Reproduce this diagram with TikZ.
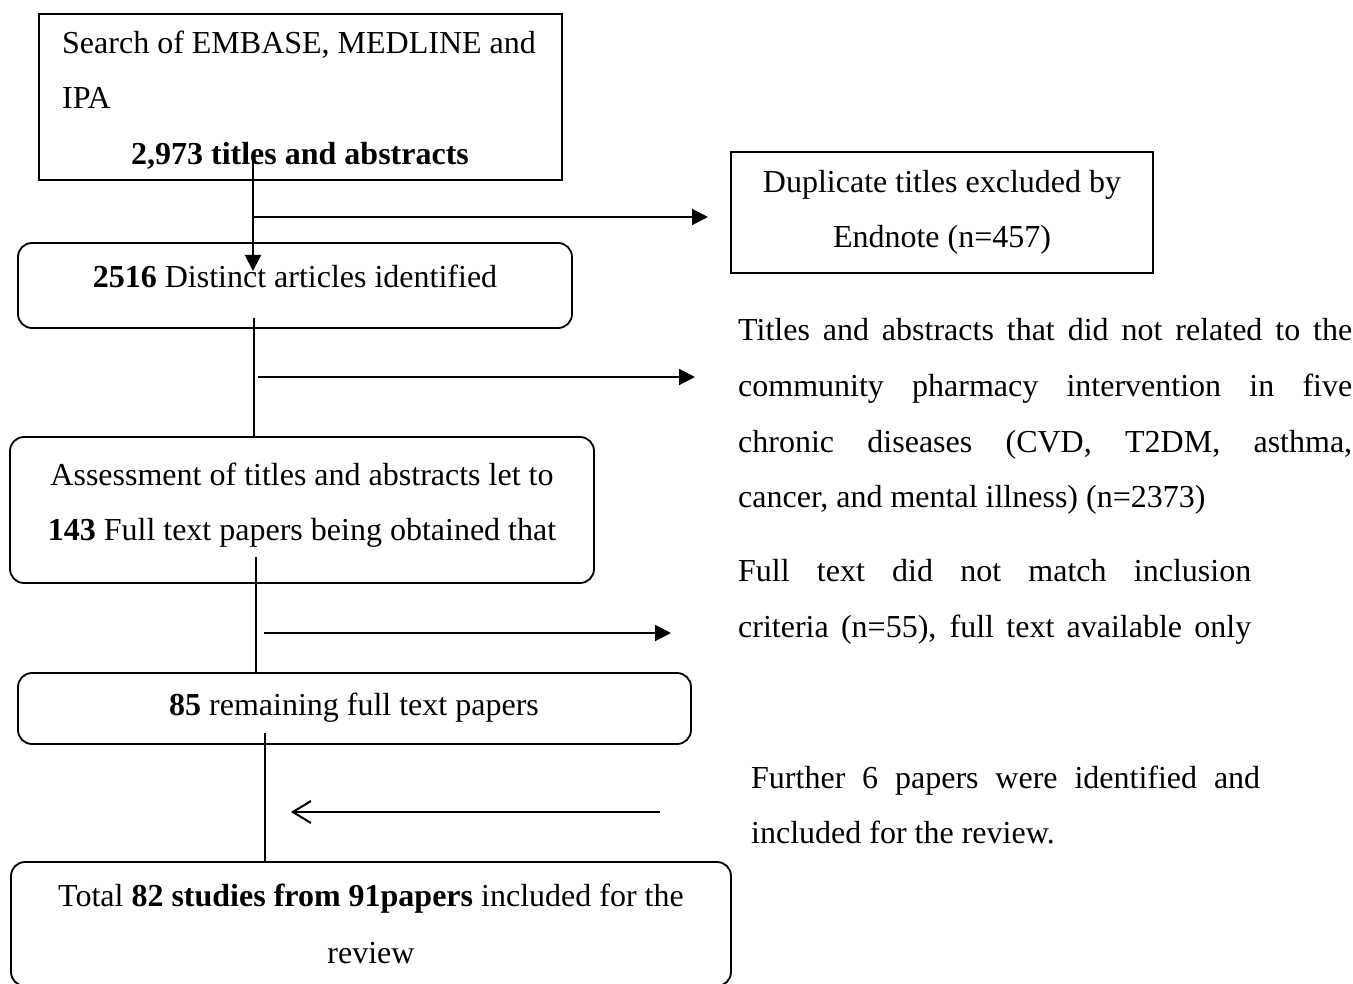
\documentclass[tikz,border=0pt]{standalone}
\usepackage{fontspec}
\setmainfont{Liberation Serif}
\usetikzlibrary{arrows.meta}
\newcommand{\fs}{\fontsize{32}{55.5}\selectfont}
\tikzset{
  box/.style={draw, line width=1.8pt, inner sep=0pt},
  rbox/.style={box, rounded corners=14pt},
  txt/.style={font=\fs, inner sep=0pt},
  conn/.style={line width=2pt},
  arr/.style={conn, -{Triangle[length=16pt,width=16pt]}},
  barb/.style={conn, -{Straight Barb[length=18pt,width=22pt,line width=2pt]}}
}
\begin{document}
\begin{tikzpicture}[x=1pt,y=-1pt]
\useasboundingbox (0,0) rectangle (1353,984);
\begin{scope}
\clip (0,0) rectangle (1353,984);
% boxes
\node[box, minimum width=523pt, minimum height=166pt] (b1) at (300.5,97) {};
\node[box, minimum width=422pt, minimum height=121pt] (b2) at (942,212.5) {};
\node[rbox, minimum width=554pt, minimum height=85pt] (b3) at (295,285.5) {};
\node[rbox, minimum width=584pt, minimum height=146pt] (b4) at (302,510) {};
\node[rbox, minimum width=673pt, minimum height=71pt] (b5) at (354.5,708.5) {};
\node[rbox, minimum width=720pt, minimum height=124pt] (b6) at (371,924) {};
\end{scope}
% box texts
\node[txt, anchor=base west] (t1a) at (62,54) {Search of EMBASE, MEDLINE and};
\node[txt, anchor=base west] (t1b) at (62,109) {IPA};
\node[txt, anchor=base] (t1c) at (300,165) {\textbf{2,973 titles and abstracts}};
\node[txt, anchor=base] (t2a) at (942,193) {Duplicate titles excluded by};
\node[txt, anchor=base] (t2b) at (942,248) {Endnote (n=457)};
\node[txt, anchor=base] (t3) at (295,288) {\textbf{2516} Distinct articles identified};
\node[txt, anchor=base] (t4a) at (302,485) {Assessment of titles and abstracts let to};
\node[txt, anchor=base] (t4b) at (302,540) {\textbf{143} Full text papers being obtained that};
\node[txt, anchor=base] (t5) at (354,715) {\textbf{85} remaining full text papers};
\node[txt, anchor=base] (t6a) at (371,906) {Total \textbf{82 studies from 91papers} included for the};
\node[txt, anchor=base] (t6b) at (371,963) {review};
% side texts
\node[txt, anchor=base west] (s1a) at (738,341) {\makebox[614pt][s]{Titles and abstracts that did not related to the}};
\node[txt, anchor=base west] (s1b) at (738,397) {\makebox[614pt][s]{community pharmacy intervention in five}};
\node[txt, anchor=base west] (s1c) at (738,452) {\makebox[614pt][s]{chronic diseases (CVD, T2DM, asthma,}};
\node[txt, anchor=base west] (s1d) at (738,507) {cancer, and mental illness) (n=2373)};
\node[txt, anchor=base west] (s2a) at (738,581) {\makebox[513pt][s]{Full text did not match inclusion}};
\node[txt, anchor=base west] (s2b) at (738,637) {\makebox[513pt][s]{criteria (n=55), full text available only}};
\node[txt, anchor=base west] (s3a) at (751,788) {\makebox[509pt][s]{Further 6 papers were identified and}};
\node[txt, anchor=base west] (s3b) at (751,843) {included for the review.};
% connector coordinates
\coordinate (v1s) at (253,160);
\coordinate (v1e) at (253,271);
\coordinate (h1s) at (253,217);
\coordinate (h1e) at (708,217);
\coordinate (v2s) at (254,318);
\coordinate (v2e) at (254,437);
\coordinate (h2s) at (258,377);
\coordinate (h2e) at (695,377);
\coordinate (v3s) at (256,557);
\coordinate (v3e) at (256,673);
\coordinate (h3s) at (264,633);
\coordinate (h3e) at (671,633);
\coordinate (v4s) at (265,733);
\coordinate (v4e) at (265,862);
\coordinate (h4s) at (660,812);
\coordinate (h4e) at (291,812);
% connectors
\draw[arr] (v1s) -- (v1e);
\draw[arr] (h1s) -- (h1e);
\draw[conn] (v2s) -- (v2e);
\draw[arr] (h2s) -- (h2e);
\draw[conn] (v3s) -- (v3e);
\draw[arr] (h3s) -- (h3e);
\draw[conn] (v4s) -- (v4e);
\draw[barb] (h4s) -- (h4e);
\end{tikzpicture}
\end{document}
